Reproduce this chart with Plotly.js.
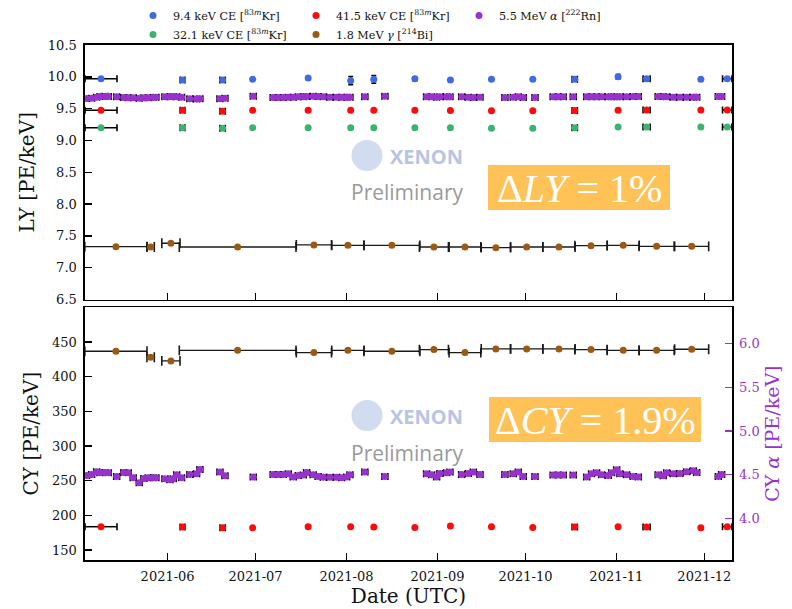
<!DOCTYPE html>
<html><head><meta charset="utf-8">
<script src="https://cdn.plot.ly/plotly-3.0.1.min.js"></script>
<style>body{margin:0;background:#fff}#chart{width:792px;height:609px}</style>
</head><body><div id="chart"></div>
<script>
// ---------------- data ----------------
const krDates = ["2021-05-09 07:00","2021-06-06 02:00","2021-06-19 18:00","2021-06-30 00:00","2021-07-18 22:00","2021-08-02 10:00","2021-08-10 07:00","2021-08-24 07:00","2021-09-05 10:00","2021-09-19 10:00","2021-10-03 12:00","2021-10-17 19:00","2021-11-01 14:00","2021-11-11 07:00","2021-11-29 19:00","2021-12-08 19:00"];
const krXerrDays = [5.45,0.8,0.9,0,0,0,0,0,0,0,0,0.9,0,1.2,0,1.6];
const ly94 = [9.97,9.95,9.95,9.96,9.98,9.94,9.96,9.97,9.95,9.96,9.96,9.96,10.0,9.97,9.96,9.97];
const ly94Err = [0.01,0.02,0.02,0.01,0.015,0.065,0.06,0.03,0.015,0.01,0.015,0.015,0.035,0.03,0.015,0.02];
const ly415 = [9.473,9.473,9.46,9.473,9.473,9.473,9.473,9.473,9.47,9.465,9.465,9.47,9.473,9.48,9.478,9.478];
const ly321 = [9.2,9.2,9.19,9.2,9.2,9.2,9.2,9.2,9.2,9.19,9.19,9.2,9.21,9.21,9.21,9.21];
const cy415 = [183.6,183.1,182.1,182.1,183.6,183.6,183.1,182.6,184.6,183.6,182.6,183.1,183.6,183.1,182.1,183.6];

const biDates = ["2021-05-14 09:00","2021-05-26 05:00","2021-06-02 03:00","2021-06-24 21:00","2021-07-20 21:00","2021-08-01 11:00","2021-08-16 11:00","2021-08-30 19:00","2021-09-10 09:00","2021-09-20 22:00","2021-10-01 10:00","2021-10-12 10:00","2021-10-23 08:00","2021-11-03 08:00","2021-11-14 17:00","2021-11-26 16:00"];
const biHalfDays = [10.6,1.25,3.1,19.9,6.0,5.5,9.55,4.95,5.4,5.0,5.5,5.5,5.5,5.45,6.0,5.8];
const biLY = [7.33,7.325,7.384,7.325,7.357,7.352,7.352,7.325,7.325,7.315,7.325,7.325,7.346,7.352,7.336,7.336];
const biCY = [436.6,428,422.6,438,434.7,438,436.6,439,434.7,440,440,440,439,438,438,439.5];

const rnDates = ["2021-05-04 09:00","2021-05-06 02:00","2021-05-07 19:00","2021-05-08 22:00","2021-05-10 15:00","2021-05-11 18:00","2021-05-14 15:00","2021-05-17 02:00","2021-05-18 14:00","2021-05-20 06:00","2021-05-22 08:00","2021-05-23 22:00","2021-05-25 09:00","2021-05-27 02:00","2021-05-28 00:00","2021-05-31 02:00","2021-06-01 19:00","2021-06-02 22:00","2021-06-04 02:00","2021-06-05 18:00","2021-06-08 14:00","2021-06-10 21:00","2021-06-12 00:00","2021-06-18 20:00","2021-06-20 13:00","2021-06-30 05:00","2021-07-07 00:00","2021-07-08 17:00","2021-07-10 10:00","2021-07-12 03:00","2021-07-13 20:00","2021-07-15 13:00","2021-07-17 06:00","2021-07-18 09:00","2021-07-20 15:00","2021-07-22 08:00","2021-07-24 01:00","2021-07-26 08:00","2021-07-28 15:00","2021-07-30 08:00","2021-08-01 01:00","2021-08-02 04:00","2021-08-07 06:00","2021-08-14 02:00",
"2021-08-28 07:00","2021-08-30 00:00","2021-08-31 17:00","2021-09-01 20:00","2021-09-04 03:00","2021-09-05 06:00","2021-09-09 06:00","2021-09-11 12:00","2021-09-13 05:00","2021-09-15 12:00","2021-09-24 00:00","2021-09-26 20:00","2021-09-28 13:00","2021-09-30 06:00","2021-10-04 06:00","2021-10-10 11:00","2021-10-12 04:00","2021-10-13 21:00","2021-10-17 07:00","2021-10-21 21:00","2021-10-23 13:00","2021-10-25 06:00","2021-10-26 23:00","2021-10-29 05:00","2021-10-30 09:00","2021-11-01 02:00","2021-11-02 05:00","2021-11-04 12:00","2021-11-06 18:00","2021-11-08 11:00","2021-11-15 06:00","2021-11-16 23:00","2021-11-18 03:00","2021-11-20 09:00","2021-11-22 16:00","2021-11-24 23:00","2021-11-27 05:00","2021-11-28 09:00","2021-12-05 18:00","2021-12-06 21:00"];
const rnLY = [9.66,9.665,9.68,9.69,9.695,9.69,9.685,9.675,9.67,9.67,9.665,9.67,9.67,9.675,9.68,9.685,9.685,9.69,9.685,9.68,9.655,9.65,9.655,9.655,9.665,9.695,9.675,9.675,9.675,9.68,9.68,9.685,9.685,9.69,9.695,9.69,9.685,9.68,9.68,9.68,9.68,9.68,9.685,9.695,
9.685,9.685,9.68,9.685,9.685,9.685,9.685,9.68,9.675,9.68,9.675,9.68,9.685,9.675,9.675,9.685,9.685,9.685,9.685,9.685,9.685,9.685,9.685,9.685,9.685,9.685,9.685,9.685,9.69,9.69,9.69,9.69,9.685,9.68,9.68,9.68,9.68,9.68,9.69,9.69];
const rnCYalpha = [4.492,4.503,4.534,4.523,4.526,4.523,4.481,4.526,4.523,4.466,4.409,4.458,4.466,4.466,4.466,4.455,4.443,4.455,4.50,4.466,4.503,4.511,4.56,4.53,4.489,4.473,4.503,4.503,4.503,4.511,4.473,4.492,4.496,4.526,4.50,4.481,4.47,4.47,4.47,4.466,4.473,4.50,4.53,4.481,
4.511,4.50,4.473,4.515,4.523,4.53,4.503,4.515,4.53,4.503,4.503,4.511,4.53,4.481,4.481,4.496,4.496,4.496,4.496,4.473,4.511,4.523,4.50,4.492,4.523,4.557,4.511,4.50,4.481,4.473,4.50,4.489,4.523,4.511,4.515,4.534,4.545,4.526,4.481,4.503];

const tickLY = [6.5,7.0,7.5,8.0,8.5,9.0,9.5,10.0,10.5];
const tickCY = [150,200,250,300,350,400,450];
const tickAlpha = [4.0,4.5,5.0,5.5,6.0];

// ---------------- styling ----------------
const DAY = 86400000;
const SERIF = "DejaVu Serif";
const C_BLUE = "#4169e1", C_RED = "#ff0a0a", C_GREEN = "#3cb371", C_BROWN = "#9a5a16", C_PURPLE = "#9932cc";
const MS = 7;
const ALPHA_CAP_DAYS = 1.0;   // visual cap half-width of the alpha markers' x error bars

function toMs(s){
  const [d,t] = s.split(" ");
  const [Y,M,D] = d.split("-").map(Number);
  const [h,m] = (t||"00:00").split(":").map(Number);
  return Date.UTC(Y,M-1,D,h,m);
}
// horizontal error bars drawn as line segments + end caps (error_x is not supported on date axes)
function xErrTraces(dates, ys, halfDays, xa, ya, color, width, cap){
  const xs=[], yy=[], cx=[], cy=[];
  dates.forEach((d,i)=>{
    const h = Array.isArray(halfDays) ? halfDays[i] : halfDays;
    if(!h) return;
    const c = toMs(d), a = c-h*DAY, b = c+h*DAY;
    xs.push(a,b,null); yy.push(ys[i],ys[i],null);
    cx.push(a,b); cy.push(ys[i],ys[i]);
  });
  return [
    {type:"scatter", mode:"lines", x:xs, y:yy, xaxis:xa, yaxis:ya, line:{color:color,width:width}, showlegend:false, hoverinfo:"skip"},
    {type:"scatter", mode:"markers", x:cx, y:cy, xaxis:xa, yaxis:ya, showlegend:false, hoverinfo:"skip",
     marker:{symbol:"line-ns-open", size:cap, color:color, line:{color:color,width:1.6}}}
  ];
}

const errs = [].concat(
  xErrTraces(biDates, biLY, biHalfDays, "x", "y", "#1a1a1a", 1.3, 7),
  xErrTraces(krDates, ly94, krXerrDays, "x", "y", "black", 1.5, 5),
  xErrTraces(krDates, ly415, krXerrDays, "x", "y", "black", 1.5, 5),
  xErrTraces(krDates, ly321, krXerrDays, "x", "y", "black", 1.5, 5),
  xErrTraces(rnDates, rnLY, ALPHA_CAP_DAYS, "x", "y", "black", 1.5, 5),
  xErrTraces(biDates, biCY, biHalfDays, "x2", "y2", "#1a1a1a", 1.3, 7),
  xErrTraces(krDates, cy415, krXerrDays, "x2", "y2", "black", 1.5, 5),
  xErrTraces(rnDates, rnCYalpha, ALPHA_CAP_DAYS, "x2", "y3", "black", 1.5, 5)
);

const pts = [
  {name:"9.4 keV CE [<sup>83<i>m</i></sup>Kr]", x:krDates, y:ly94, xaxis:"x", yaxis:"y", mode:"markers", type:"scatter",
   marker:{color:C_BLUE,size:MS}, error_y:{type:"data",array:ly94Err,color:"black",thickness:1.5,width:2.5}},
  {name:"41.5 keV CE [<sup>83<i>m</i></sup>Kr]", x:krDates, y:ly415, xaxis:"x", yaxis:"y", mode:"markers", type:"scatter",
   marker:{color:C_RED,size:MS}},
  {name:"5.5 MeV <i>α</i> [<sup>222</sup>Rn]", x:rnDates, y:rnLY, xaxis:"x", yaxis:"y", mode:"markers", type:"scatter",
   marker:{color:C_PURPLE,size:MS}},
  {name:"32.1 keV CE [<sup>83<i>m</i></sup>Kr]", x:krDates, y:ly321, xaxis:"x", yaxis:"y", mode:"markers", type:"scatter",
   marker:{color:C_GREEN,size:MS}},
  {name:"1.8 MeV <i>γ</i> [<sup>214</sup>Bi]", x:biDates, y:biLY, xaxis:"x", yaxis:"y", mode:"markers", type:"scatter",
   marker:{color:C_BROWN,size:MS}},
  {name:"41.5 keV CE (CY)", showlegend:false, x:krDates, y:cy415, xaxis:"x2", yaxis:"y2", mode:"markers", type:"scatter",
   marker:{color:C_RED,size:MS}},
  {name:"1.8 MeV (CY)", showlegend:false, x:biDates, y:biCY, xaxis:"x2", yaxis:"y2", mode:"markers", type:"scatter",
   marker:{color:C_BROWN,size:MS}},
  {name:"5.5 MeV α (CY)", showlegend:false, x:rnDates, y:rnCYalpha, xaxis:"x2", yaxis:"y3", mode:"markers", type:"scatter",
   marker:{color:C_PURPLE,size:MS}}
];

// pixel -> paper helpers for decorations
const PL=85, PR=732, PT=45, PB=560;
const fx = p => (p-PL)/(PR-PL);
const fy = p => (PB-p)/(PB-PT);

const xRange = ["2021-05-03 20:00","2021-12-10 10:00"];
const common = {showgrid:false, zeroline:false, showline:true, linecolor:"black", linewidth:1.6, mirror:true,
  ticks:"inside", ticklen:7, tickwidth:1.4, tickcolor:"black", tickfont:{family:SERIF,size:13,color:"#111"}};

const layout = {
  width:792, height:609,
  margin:{l:PL, r:792-PR, t:PT, b:609-PB, autoexpand:false},
  paper_bgcolor:"white", plot_bgcolor:"white",
  font:{family:SERIF, color:"#111"},
  showlegend:true,
  legend:{orientation:"h", x:fx(133), y:fy(1), xanchor:"left", yanchor:"top",
    entrywidth:118, entrywidthmode:"pixels", font:{family:SERIF,size:11.2,color:"#111"},
    bgcolor:"rgba(0,0,0,0)", itemwidth:30, tracegroupgap:0},
  xaxis:Object.assign({}, common, {domain:[0,1], anchor:"y", type:"date", range:xRange,
    tick0:"2021-06-01", dtick:"M1", tickformat:"%Y-%m", showticklabels:false}),
  xaxis2:Object.assign({}, common, {domain:[0,1], anchor:"y2", type:"date", range:xRange,
    tick0:"2021-06-01", dtick:"M1", tickformat:"%Y-%m", ticklabelstandoff:4,
    title:{text:"Date (UTC)", font:{family:SERIF,size:20,color:"#111"}, standoff:5}}),
  yaxis:Object.assign({}, common, {domain:[fy(299.5),1], anchor:"x", range:[6.5,10.5],
    tickvals:tickLY, tickformat:".1f", ticklabelstandoff:4,
    title:{text:"LY [PE/keV]", font:{family:SERIF,size:20,color:"#111"}, standoff:8}}),
  yaxis2:Object.assign({}, common, {domain:[0,fy(307.3)], anchor:"x2", range:[135.6,500],
    tickvals:tickCY, ticklabelstandoff:4,
    title:{text:"CY [PE/keV]", font:{family:SERIF,size:20,color:"#111"}, standoff:8}}),
  yaxis3:{overlaying:"y2", anchor:"x2", side:"right", range:[3.526,6.413], tickvals:tickAlpha, tickformat:".1f",
    showgrid:false, zeroline:false, showline:false, ticks:"inside", ticklen:7, tickwidth:1.4, tickcolor:C_PURPLE,
    tickfont:{family:SERIF,size:13,color:C_PURPLE}, ticklabelstandoff:6,
    title:{text:"CY <i>α</i> [PE/keV]", font:{family:SERIF,size:19,color:C_PURPLE}, standoff:7}},
  shapes:[
    {type:"rect", xref:"paper", yref:"paper", x0:fx(488), x1:fx(670), y0:fy(210), y1:fy(165), fillcolor:"#ffc257", line:{width:0}},
    {type:"rect", xref:"paper", yref:"paper", x0:fx(489), x1:fx(701), y0:fy(442), y1:fy(397), fillcolor:"#ffc257", line:{width:0}},
    {type:"circle", xref:"paper", yref:"paper", x0:fx(351.5), x1:fx(382.5), y0:fy(171), y1:fy(140), fillcolor:"rgba(190,205,235,0.7)", line:{width:0}},
    {type:"circle", xref:"paper", yref:"paper", x0:fx(351.5), x1:fx(382.5), y0:fy(431), y1:fy(400), fillcolor:"rgba(190,205,235,0.7)", line:{width:0}}
  ],
  annotations:[
    {xref:"paper", yref:"paper", x:fx(388), y:fy(156), xanchor:"left", yanchor:"middle", showarrow:false,
     text:"<b>XENON</b>", font:{family:"Open Sans", size:20, color:"#b7c4e4"}},
    {xref:"paper", yref:"paper", x:fx(349), y:fy(192), xanchor:"left", yanchor:"middle", showarrow:false,
     text:"Preliminary", font:{family:"Open Sans", size:21, color:"#9a9a9a"}},
    {xref:"paper", yref:"paper", x:fx(579), y:fy(188), xanchor:"center", yanchor:"middle", showarrow:false,
     text:"Δ<i>LY</i> = 1%", font:{family:"Liberation Serif", size:40, color:"white"}},
    {xref:"paper", yref:"paper", x:fx(388), y:fy(416), xanchor:"left", yanchor:"middle", showarrow:false,
     text:"<b>XENON</b>", font:{family:"Open Sans", size:20, color:"#b7c4e4"}},
    {xref:"paper", yref:"paper", x:fx(349), y:fy(453), xanchor:"left", yanchor:"middle", showarrow:false,
     text:"Preliminary", font:{family:"Open Sans", size:21, color:"#9a9a9a"}},
    {xref:"paper", yref:"paper", x:fx(595), y:fy(420), xanchor:"center", yanchor:"middle", showarrow:false,
     text:"Δ<i>CY</i> = 1.9%", font:{family:"Liberation Serif", size:40, color:"white"}}
  ]
};

Plotly.newPlot("chart", errs.concat(pts), layout, {displayModeBar:false, staticPlot:true});
</script></body></html>
